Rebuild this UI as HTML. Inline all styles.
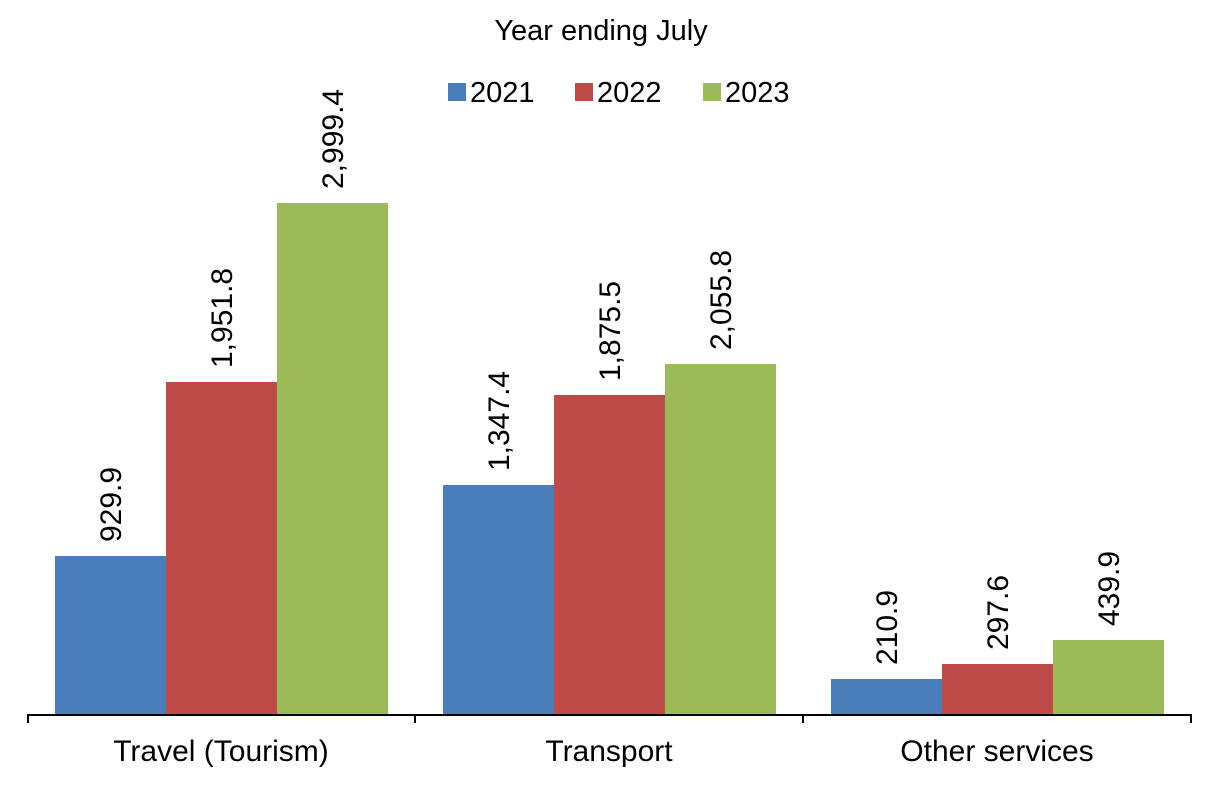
<!DOCTYPE html>
<html><head><meta charset="utf-8"><style>
html,body{margin:0;padding:0;background:#fff;}
svg{display:block;font-family:"Liberation Sans",Arial,sans-serif;}
</style></head><body>
<svg width="1212" height="790" viewBox="0 0 1212 790" xmlns="http://www.w3.org/2000/svg">
<text x="601" y="40" font-size="29" text-anchor="middle" fill="#000">Year ending July</text>
<rect x="448" y="83" width="18" height="18" fill="#4A7EBB"/>
<text x="470" y="102" font-size="29" fill="#000">2021</text>
<rect x="575" y="83" width="18" height="18" fill="#BE4B48"/>
<text x="597" y="102" font-size="29" fill="#000">2022</text>
<rect x="703" y="83" width="18" height="18" fill="#9BBB59"/>
<text x="725" y="102" font-size="29" fill="#000">2023</text>

<g>
<rect x="55" y="556" width="111" height="159" fill="#4A7EBB"/>
<rect x="166" y="382" width="111" height="333" fill="#BE4B48"/>
<rect x="277" y="203" width="111" height="512" fill="#9BBB59"/>
<rect x="443" y="485" width="111" height="230" fill="#4A7EBB"/>
<rect x="554" y="395" width="111" height="320" fill="#BE4B48"/>
<rect x="665" y="364" width="111" height="351" fill="#9BBB59"/>
<rect x="831" y="679" width="111" height="36" fill="#4A7EBB"/>
<rect x="942" y="664" width="111" height="51" fill="#BE4B48"/>
<rect x="1053" y="640" width="111" height="75" fill="#9BBB59"/>
</g>
<g font-size="30" fill="#000">
<text transform="translate(121,542) rotate(-90)">929.9</text>
<text transform="translate(232,368) rotate(-90)">1,951.8</text>
<text transform="translate(343,189) rotate(-90)">2,999.4</text>
<text transform="translate(509,471) rotate(-90)">1,347.4</text>
<text transform="translate(620,381) rotate(-90)">1,875.5</text>
<text transform="translate(731,350) rotate(-90)">2,055.8</text>
<text transform="translate(897,665) rotate(-90)">210.9</text>
<text transform="translate(1008,650) rotate(-90)">297.6</text>
<text transform="translate(1119,626) rotate(-90)">439.9</text>
</g>
<g stroke="#000" stroke-width="2">
<line x1="27" y1="715" x2="1192" y2="715"/>
<line x1="28" y1="715" x2="28" y2="723"/>
<line x1="415" y1="715" x2="415" y2="723"/>
<line x1="803" y1="715" x2="803" y2="723"/>
<line x1="1191" y1="715" x2="1191" y2="723"/>
</g>
<g font-size="30" fill="#000" text-anchor="middle">
<text x="221" y="761">Travel (Tourism)</text>
<text x="609" y="761">Transport</text>
<text x="997" y="761">Other services</text>
</g>
</svg>
</body></html>
